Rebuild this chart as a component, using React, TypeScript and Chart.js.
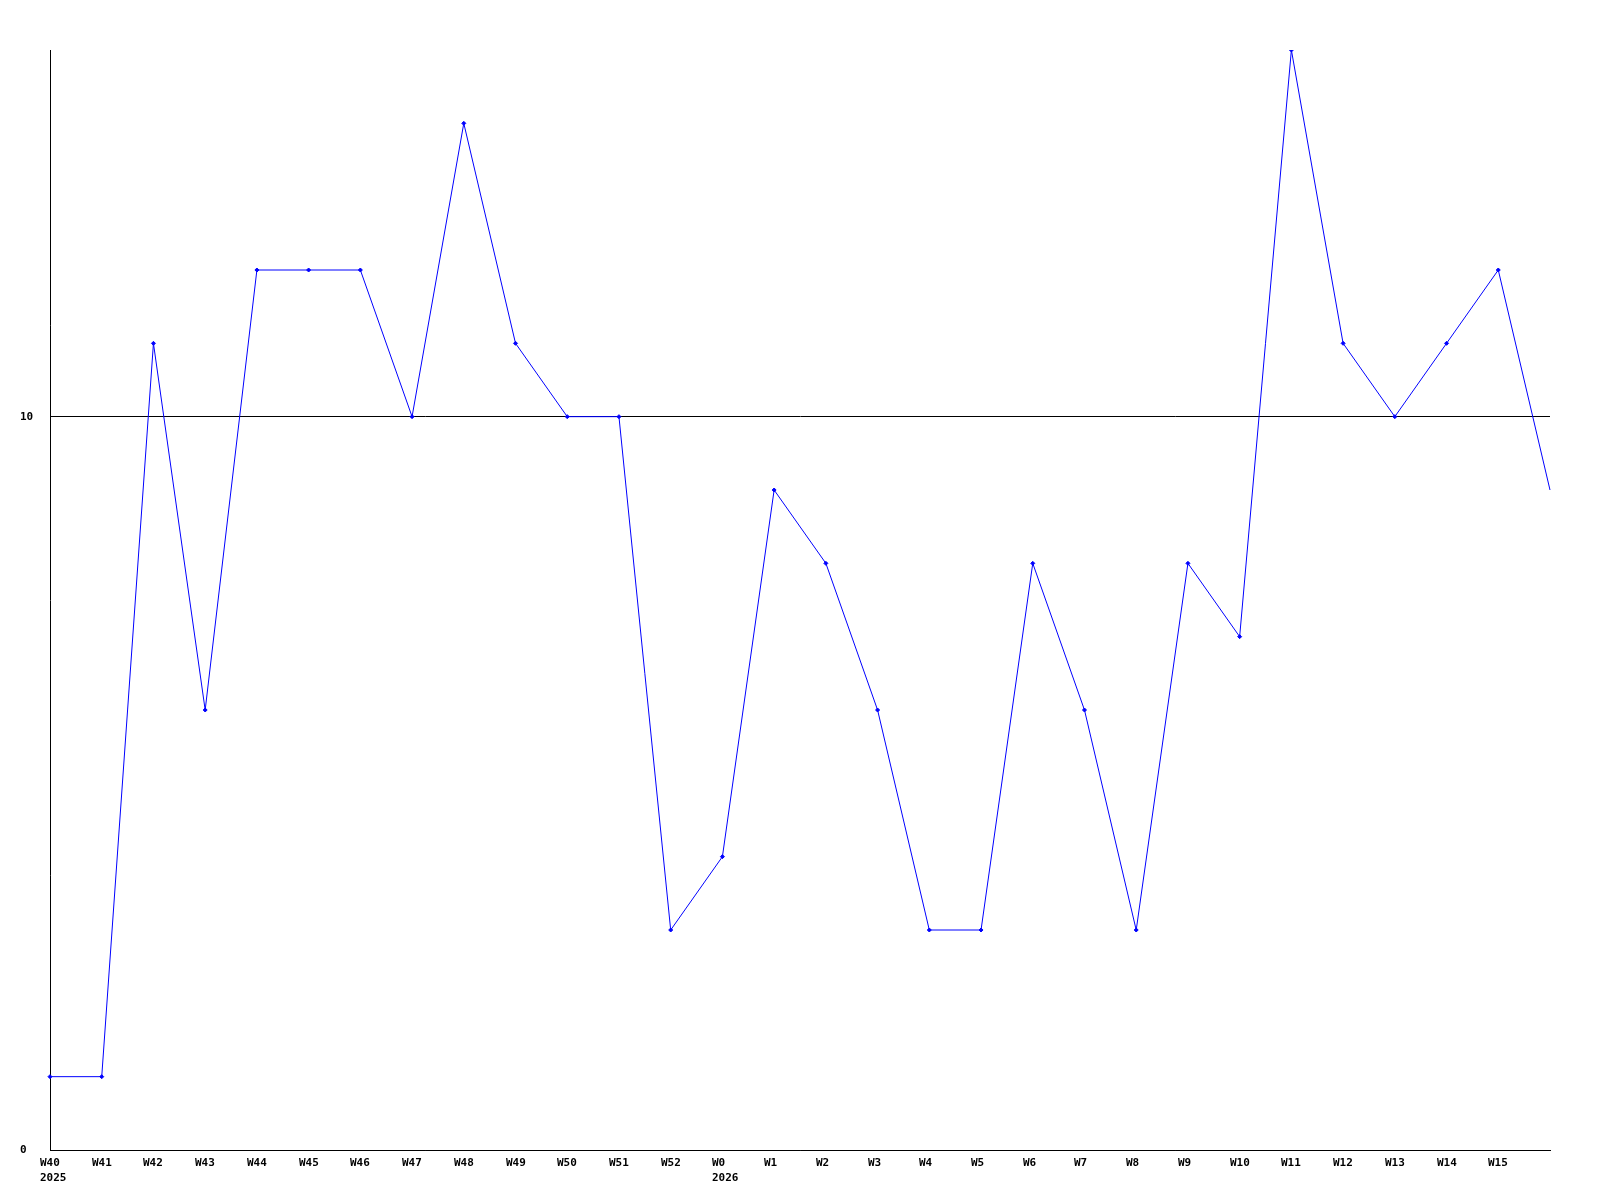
import React, { useEffect, useRef } from "react";
import { Chart, registerables } from "chart.js";

Chart.register(...registerables);

const weeks = [
  "W40", "W41", "W42", "W43", "W44", "W45", "W46", "W47", "W48", "W49", "W50", "W51", "W52",
  "W0", "W1", "W2", "W3", "W4", "W5", "W6", "W7", "W8", "W9", "W10", "W11", "W12", "W13", "W14", "W15",
  "",
];
const values = [1, 1, 11, 6, 12, 12, 12, 10, 14, 11, 10, 10, 3, 4, 9, 8, 6, 3, 3, 8, 6, 3, 8, 7, 15, 11, 10, 11, 12, 9];
const yearIndices = [0, 13];
const yearLabels = ["2025", "2026"];
const yTicks = [0, 10];
const yMin = 0;
const yMax = 15;

const FONT = "bold 11px 'DejaVu Sans Mono', monospace";

export default function App() {
  const ref = useRef<HTMLCanvasElement | null>(null);
  useEffect(() => {
    if (!ref.current) return;
    const labelPlugin = {
      id: "labelPlugin",
      afterDraw(chart: any) {
        const ctx = chart.ctx;
        const xs = chart.scales.x;
        const bottom = chart.chartArea.bottom;
        ctx.save();
        ctx.font = FONT;
        ctx.fillStyle = "#000";
        ctx.textAlign = "left";
        ctx.textBaseline = "middle";
        weeks.forEach((w, idx) => {
          if (!w) return;
          const px = xs.getPixelForValue(idx);
          ctx.fillText(w, Math.round(px - 10), bottom + 13);
        });
        yearIndices.forEach((idx, i) => {
          const px = xs.getPixelForValue(idx);
          ctx.fillText(yearLabels[i], Math.round(px - 10), bottom + 28);
        });
        ctx.restore();
      },
    };
    const chart = new Chart(ref.current, {
      type: "line",
      data: {
        labels: weeks,
        datasets: [
          {
            data: values,
            borderColor: "#0000ff",
            backgroundColor: "#0000ff",
            borderWidth: 1,
            tension: 0,
            pointStyle: "rectRot",
            pointRadius: values.map((_, i) => (i === values.length - 1 ? 0 : 2)),
            pointBorderWidth: 1,
            pointBorderColor: "#0000ff",
            pointBackgroundColor: "#0000ff",
            fill: false,
          },
        ],
      },
      options: {
        animation: false,
        responsive: false,
        devicePixelRatio: 1,
        layout: { padding: { left: 20, top: 50, right: 50, bottom: 0 } },
        plugins: { legend: { display: false }, tooltip: { enabled: false } },
        scales: {
          x: {
            type: "category",
            offset: false,
            grid: { display: false, drawTicks: false },
            border: { display: true, color: "#000", width: 1 },
            ticks: { display: false, autoSkip: false, maxRotation: 0, minRotation: 0 },
            afterFit(scale: any) {
              scale.height = 50;
            },
          },
          y: {
            min: yMin,
            max: yMax,
            grid: { color: "#000", lineWidth: 1, drawTicks: false },
            border: { display: true, color: "#000", width: 1 },
            afterBuildTicks(scale: any) {
              scale.ticks = yTicks.map((v) => ({ value: v }));
            },
            ticks: {
              crossAlign: "far",
              color: "#000",
              font: { family: "'DejaVu Sans Mono', monospace", size: 11, weight: "bold" },
            },
            afterFit(scale: any) {
              scale.width = 30;
            },
          },
        },
      },
      plugins: [labelPlugin],
    } as any);
    return () => chart.destroy();
  }, []);
  return (
    <canvas
      ref={ref}
      width={1600}
      height={1200}
      style={{ position: "absolute", left: 0, top: 0, width: 1600, height: 1200, display: "block", background: "#fff" }}
    />
  );
}
